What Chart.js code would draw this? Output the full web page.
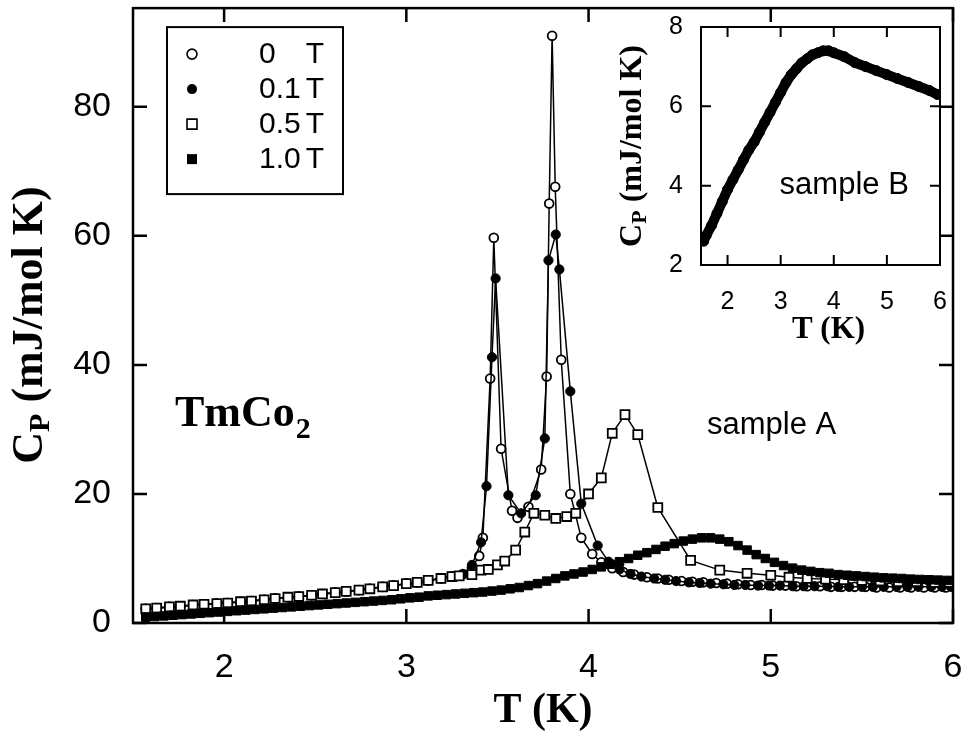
<!DOCTYPE html>
<html>
<head>
<meta charset="utf-8">
<script src="https://cdn.jsdelivr.net/npm/chart.js@4/dist/chart.umd.min.js"></script>
<style>
  html, body { margin: 0; padding: 0; background: #fff; }
  #wrap { position: relative; width: 967px; height: 732px; overflow: hidden; }
  #main { position: absolute; left: 0; top: 0; }
  #inset { position: absolute; left: 590px; top: 0; }
</style>
</head>
<body>
<div id="wrap">
  <canvas id="main" width="967" height="732"></canvas>
  <canvas id="inset" width="360" height="350"></canvas>
</div>
<script>
// values (T in K, Cp in mJ/mol K)

// low-T part shared by 0, 0.1 and 0.5 T (points lie on top of each other)
const lowT = [1.57, 1.63, 1.70, 1.76, 1.83, 1.89, 1.96, 2.02, 2.09, 2.15, 2.22, 2.28, 2.35, 2.41,
  2.48, 2.54, 2.61, 2.67, 2.74, 2.80, 2.87, 2.93, 3.00, 3.06, 3.12, 3.19, 3.25];
const lowC = [2.2, 2.3, 2.5, 2.6, 2.8, 2.9, 3.0, 3.1, 3.3, 3.4, 3.6, 3.8, 4.0, 4.1,
  4.3, 4.5, 4.7, 4.9, 5.1, 5.3, 5.6, 5.8, 6.1, 6.3, 6.6, 6.9, 7.2];

// 0 T
const t0 = lowT.concat([3.31, 3.36, 3.40, 3.42, 3.46, 3.48, 3.52, 3.58, 3.61, 3.67,
  3.74, 3.77, 3.784, 3.80, 3.817, 3.85, 3.90, 3.96, 4.02, 4.07,
  4.13, 4.19, 4.25, 4.32, 4.38, 4.44, 4.51, 4.57, 4.63, 4.70,
  4.76, 4.82, 4.89, 4.95, 5.01, 5.08, 5.14, 5.20, 5.27, 5.33,
  5.39, 5.46, 5.52, 5.58, 5.65, 5.71, 5.77, 5.84, 5.90, 5.96]);
const c0 = lowC.concat([7.6, 8.6, 10.4, 13.2, 37.9, 59.7, 27.0, 17.4, 16.3, 18.0,
  23.8, 38.2, 65.0, 91.0, 67.6, 40.8, 20.0, 13.2, 10.7, 9.4,
  8.5, 7.9, 7.5, 7.1, 6.9, 6.7, 6.5, 6.4, 6.3, 6.2,
  6.1, 6.0, 5.9, 5.9, 5.8, 5.8, 5.7, 5.7, 5.7, 5.6,
  5.6, 5.6, 5.6, 5.5, 5.5, 5.5, 5.5, 5.5, 5.5, 5.5]);

// 0.1 T
const t01 = lowT.concat([3.31, 3.36, 3.41, 3.44, 3.47, 3.49, 3.56, 3.63, 3.71, 3.76,
  3.78, 3.82, 3.84, 3.90, 3.96, 4.05, 4.11, 4.17, 4.23, 4.29,
  4.36, 4.42, 4.48, 4.55, 4.61, 4.67, 4.74, 4.80, 4.86, 4.93,
  4.99, 5.05, 5.12, 5.18, 5.24, 5.31, 5.37, 5.43, 5.50, 5.56,
  5.62, 5.69, 5.75, 5.81, 5.88, 5.94, 5.99]);
const c01 = lowC.concat([7.5, 9.0, 12.5, 21.2, 41.2, 53.4, 19.8, 17.0, 19.8, 28.6,
  56.2, 60.2, 54.8, 35.9, 18.5, 12.0, 9.5, 8.3, 7.6, 7.2,
  6.9, 6.7, 6.5, 6.3, 6.2, 6.1, 6.0, 5.9, 5.9, 5.8,
  5.8, 5.8, 5.7, 5.7, 5.7, 5.7, 5.6, 5.6, 5.6, 5.6,
  5.6, 5.6, 5.6, 5.6, 5.6, 5.6, 5.6]);

// 0.5 T
const t05 = lowT.concat([3.29, 3.36, 3.41, 3.45, 3.50, 3.54, 3.60, 3.65, 3.70, 3.76,
  3.82, 3.88, 3.93, 4.00, 4.07, 4.13, 4.20, 4.27, 4.38, 4.56,
  4.72, 4.87, 5.00, 5.10, 5.20, 5.30, 5.40, 5.50, 5.60, 5.70,
  5.80, 5.90, 5.98]);
const c05 = lowC.concat([7.3, 7.5, 8.2, 8.3, 9.0, 9.6, 11.3, 14.1, 17.0, 16.7,
  16.2, 16.5, 17.0, 20.0, 22.5, 29.4, 32.3, 29.2, 17.9, 9.7,
  8.2, 7.7, 7.4, 7.1, 6.9, 6.8, 6.7, 6.6, 6.5, 6.4,
  6.4, 6.3, 6.3]);

// 1.0 T
const t10 = [1.57, 1.62, 1.67, 1.72, 1.77, 1.82, 1.87, 1.92, 1.97, 2.02,
  2.07, 2.12, 2.17, 2.22, 2.27, 2.32, 2.37, 2.42, 2.47, 2.52,
  2.57, 2.62, 2.67, 2.72, 2.77, 2.82, 2.87, 2.92, 2.97, 3.02,
  3.07, 3.12, 3.17, 3.22, 3.27, 3.32, 3.37, 3.42, 3.47, 3.52,
  3.57, 3.62, 3.67, 3.72, 3.77, 3.82, 3.87, 3.92, 3.97, 4.02,
  4.07, 4.12, 4.17, 4.22, 4.27, 4.32, 4.37, 4.42, 4.47, 4.52,
  4.57, 4.62, 4.67, 4.72, 4.77, 4.82, 4.87, 4.92, 4.97, 5.02,
  5.07, 5.12, 5.17, 5.22, 5.27, 5.32, 5.37, 5.42, 5.47, 5.52,
  5.57, 5.62, 5.67, 5.72, 5.77, 5.82, 5.87, 5.92, 5.97];
const c10 = [0.9, 1.0, 1.1, 1.2, 1.3, 1.4, 1.5, 1.6, 1.7, 1.8,
  1.9, 2.0, 2.1, 2.2, 2.3, 2.4, 2.5, 2.6, 2.7, 2.8,
  2.9, 3.0, 3.1, 3.2, 3.3, 3.4, 3.5, 3.6, 3.75, 3.9,
  4.0, 4.2, 4.3, 4.4, 4.5, 4.6, 4.7, 4.8, 4.95, 5.1,
  5.3, 5.5, 5.8, 6.1, 6.5, 6.9, 7.3, 7.6, 7.9, 8.3,
  8.7, 9.1, 9.5, 10.0, 10.5, 10.9, 11.4, 11.9, 12.3, 12.7,
  13.0, 13.2, 13.2, 13.0, 12.6, 12.0, 11.3, 10.6, 10.0, 9.4,
  8.9, 8.5, 8.2, 8.0, 7.8, 7.7, 7.5, 7.4, 7.3, 7.2,
  7.1, 7.0, 6.95, 6.9, 6.8, 6.75, 6.7, 6.65, 6.6];

// inset, sample B
const tB = [1.55, 1.60, 1.70, 1.80, 1.90, 2.00, 2.10, 2.20, 2.30, 2.40, 2.50, 2.60,
  2.70, 2.80, 2.90, 3.00, 3.10, 3.20, 3.30, 3.40, 3.50, 3.60, 3.70, 3.80,
  3.90, 4.00, 4.20, 4.40, 4.60, 4.80, 5.00, 5.20, 5.40, 5.60, 5.80, 5.95];
const cB = [2.6, 2.75, 3.0, 3.3, 3.6, 3.9, 4.15, 4.4, 4.65, 4.9, 5.1, 5.35,
  5.6, 5.85, 6.1, 6.35, 6.6, 6.8, 6.95, 7.1, 7.2, 7.3, 7.35, 7.4,
  7.4, 7.35, 7.25, 7.1, 7.0, 6.9, 6.8, 6.7, 6.6, 6.5, 6.4, 6.3];

const xTicks = [2, 3, 4, 5, 6];
const yTicks = [0, 20, 40, 60, 80];
const insetXTicks = [2, 3, 4, 5, 6];
const insetYTicks = [2, 4, 6, 8];
const fieldNames = ['0', '0.1', '0.5', '1.0'];

function pts(t, c) {
  return t.map((x, i) => ({ x: x, y: c[i] }));
}

// box + inward tick marks on all four sides
function framePlugin(len, lw) {
  return {
    id: 'frame',
    afterDraw(chart) {
      const { ctx, chartArea: a, scales: { x, y } } = chart;
      ctx.save();
      ctx.strokeStyle = '#000';
      ctx.lineWidth = lw;
      ctx.strokeRect(a.left, a.top, a.right - a.left, a.bottom - a.top);
      ctx.beginPath();
      x.ticks.forEach(t => {
        const px = x.getPixelForValue(t.value);
        ctx.moveTo(px, a.bottom); ctx.lineTo(px, a.bottom - len);
        ctx.moveTo(px, a.top); ctx.lineTo(px, a.top + len);
      });
      y.ticks.forEach(t => {
        const py = y.getPixelForValue(t.value);
        ctx.moveTo(a.left, py); ctx.lineTo(a.left + len, py);
        ctx.moveTo(a.right, py); ctx.lineTo(a.right - len, py);
      });
      ctx.stroke();
      ctx.restore();
    }
  };
}

// "C_P (mJ/mol K)" rotated, centred on 0,0
function drawCpTitle(ctx, size) {
  const big = 'bold ' + size + 'px "Liberation Serif"';
  const small = 'bold ' + Math.round(size * 0.68) + 'px "Liberation Serif"';
  ctx.font = big;
  const wC = ctx.measureText('C').width;
  const wR = ctx.measureText(' (mJ/mol K)').width;
  ctx.font = small;
  const wP = ctx.measureText('P').width;
  let x0 = -(wC + wP + wR) / 2;
  ctx.textBaseline = 'alphabetic';
  ctx.textAlign = 'left';
  ctx.font = big;
  ctx.fillText('C', x0, 0);
  ctx.font = small;
  ctx.fillText('P', x0 + wC, size * 0.15);
  ctx.font = big;
  ctx.fillText(' (mJ/mol K)', x0 + wC + wP, 0);
}

// stop chart.js from reserving room for the edge tick labels
function fixX(h) {
  return s => { s.height = h; s.paddingLeft = 0; s.paddingRight = 0; };
}
function fixY(w) {
  return s => { s.width = w; s.paddingTop = 0; s.paddingBottom = 0; };
}

const mainText = {
  id: 'mainText',
  afterDraw(chart) {
    const { ctx, chartArea: a, scales: { x, y } } = chart;
    ctx.save();
    ctx.fillStyle = '#000';

    // axis titles
    ctx.save();
    ctx.translate(42, 325);
    ctx.rotate(-Math.PI / 2);
    drawCpTitle(ctx, 44);
    ctx.restore();

    ctx.font = 'bold 42px "Liberation Serif"';
    ctx.textAlign = 'center';
    ctx.textBaseline = 'alphabetic';
    ctx.fillText('T (K)', (a.left + a.right) / 2, 722);

    // TmCo2
    ctx.textAlign = 'left';
    ctx.font = 'bold 44px "Liberation Serif"';
    const tx = x.getPixelForValue(1.73), ty = y.getPixelForValue(30.5);
    ctx.fillText('TmCo', tx, ty);
    const w = ctx.measureText('TmCo').width;
    ctx.font = 'bold 30px "Liberation Serif"';
    ctx.fillText('2', tx + w + 1, ty + 12);

    // sample A
    ctx.font = '31px "Liberation Sans"';
    ctx.fillText('sample A', x.getPixelForValue(4.65), y.getPixelForValue(29.3));

    // legend box
    const bx = a.left + 34, by = a.top + 19, bw = 176, bh = 167;
    ctx.lineWidth = 2;
    ctx.strokeStyle = '#000';
    ctx.strokeRect(bx, by, bw, bh);
    ctx.font = '30px "Liberation Sans"';
    ctx.textBaseline = 'middle';
    fieldNames.forEach((name, i) => {
      const ry = by + 27 + i * 35;
      const mx = bx + 25;
      ctx.lineWidth = 1.6;
      ctx.beginPath();
      if (i < 2) {
        ctx.arc(mx, ry, 5, 0, Math.PI * 2);
      } else {
        ctx.rect(mx - 5, ry - 5, 10, 10);
      }
      if (i % 2 === 1) { ctx.fill(); } else { ctx.stroke(); }
      ctx.textAlign = 'left';
      ctx.fillText(name, bx + 92, ry + 1);
      ctx.textAlign = 'right';
      ctx.fillText('T', bx + 157, ry + 1);
    });
    ctx.restore();
  }
};

const tickFont = { family: 'Liberation Sans', size: 34 };

new Chart(document.getElementById('main'), {
  type: 'scatter',
  data: {
    datasets: [
      {
        label: '1.0 T', data: pts(t10, c10), showLine: true,
        borderColor: '#000', borderWidth: 4,
        pointStyle: 'rect', pointRadius: 6,
        pointBackgroundColor: '#000', pointBorderColor: '#000', pointBorderWidth: 1
      },
      {
        label: '0.5 T', data: pts(t05, c05), showLine: true,
        borderColor: '#000', borderWidth: 1.5,
        pointStyle: 'rect', pointRadius: 6.3,
        pointBackgroundColor: '#fff', pointBorderColor: '#000', pointBorderWidth: 1.8
      },
      {
        label: '0.1 T', data: pts(t01, c01), showLine: true,
        borderColor: '#000', borderWidth: 1.5,
        pointStyle: 'circle', pointRadius: 4.6,
        pointBackgroundColor: '#000', pointBorderColor: '#000', pointBorderWidth: 1
      },
      {
        label: '0 T', data: pts(t0, c0), showLine: true,
        borderColor: '#000', borderWidth: 1.5,
        pointStyle: 'circle', pointRadius: 4.4,
        pointBackgroundColor: '#fff', pointBorderColor: '#000', pointBorderWidth: 1.8
      }
    ]
  },
  options: {
    responsive: false,
    animation: false,
    events: [],
    layout: { padding: { left: 0, right: 14, top: 6, bottom: 0 } },
    plugins: { legend: { display: false }, tooltip: { enabled: false } },
    scales: {
      x: {
        type: 'linear', min: 1.5, max: 6,
        grid: { display: false }, border: { display: false },
        afterBuildTicks: s => { s.ticks = xTicks.map(v => ({ value: v })); },
        afterFit: fixX(109),
        ticks: { font: tickFont, color: '#000', padding: 16, autoSkip: false, maxRotation: 0, callback: v => String(v) }
      },
      y: {
        type: 'linear', min: 0, max: 95.3,
        grid: { display: false }, border: { display: false },
        afterBuildTicks: s => { s.ticks = yTicks.map(v => ({ value: v })); },
        afterFit: fixY(133),
        ticks: { font: tickFont, color: '#000', padding: 14, autoSkip: false, callback: v => String(v) }
      }
    }
  },
  plugins: [framePlugin(14, 2.5), mainText]
});

// inset: sample B
const insetText = {
  id: 'insetText',
  afterDraw(chart) {
    const { ctx, chartArea: a, scales: { x, y } } = chart;
    ctx.save();
    ctx.fillStyle = '#000';
    ctx.save();
    ctx.translate(51, (a.top + a.bottom) / 2);
    ctx.rotate(-Math.PI / 2);
    drawCpTitle(ctx, 32);
    ctx.restore();
    ctx.font = 'bold 31px "Liberation Serif"';
    ctx.textAlign = 'center';
    ctx.textBaseline = 'alphabetic';
    ctx.fillText('T (K)', (a.left + a.right) / 2 + 8, 338);
    ctx.font = '31px "Liberation Sans"';
    ctx.textAlign = 'left';
    ctx.fillText('sample B', x.getPixelForValue(2.98), y.getPixelForValue(3.8));
    ctx.restore();
  }
};

new Chart(document.getElementById('inset'), {
  type: 'scatter',
  data: {
    datasets: [{
      label: 'sample B', data: pts(tB, cB), showLine: true,
      borderColor: '#000', borderWidth: 10, borderJoinStyle: 'round', borderCapStyle: 'round',
      pointStyle: 'circle', pointRadius: 5,
      pointBackgroundColor: '#000', pointBorderColor: '#000', pointBorderWidth: 1
    }]
  },
  options: {
    responsive: false,
    animation: false,
    events: [],
    layout: { padding: { left: 0, right: 10, top: 27, bottom: 0 } },
    plugins: { legend: { display: false }, tooltip: { enabled: false } },
    scales: {
      x: {
        type: 'linear', min: 1.5, max: 6,
        grid: { display: false }, border: { display: false },
        afterBuildTicks: s => { s.ticks = insetXTicks.map(v => ({ value: v })); },
        afterFit: fixX(85),
        ticks: { font: { family: 'Liberation Sans', size: 25 }, color: '#000', padding: 14, autoSkip: false, maxRotation: 0, callback: v => String(v) }
      },
      y: {
        type: 'linear', min: 2, max: 8,
        grid: { display: false }, border: { display: false },
        afterBuildTicks: s => { s.ticks = insetYTicks.map(v => ({ value: v })); },
        afterFit: fixY(111),
        ticks: { font: { family: 'Liberation Sans', size: 25 }, color: '#000', padding: 10, autoSkip: false, callback: v => String(v) }
      }
    }
  },
  plugins: [framePlugin(10, 2), insetText]
});
</script>
</body>
</html>
